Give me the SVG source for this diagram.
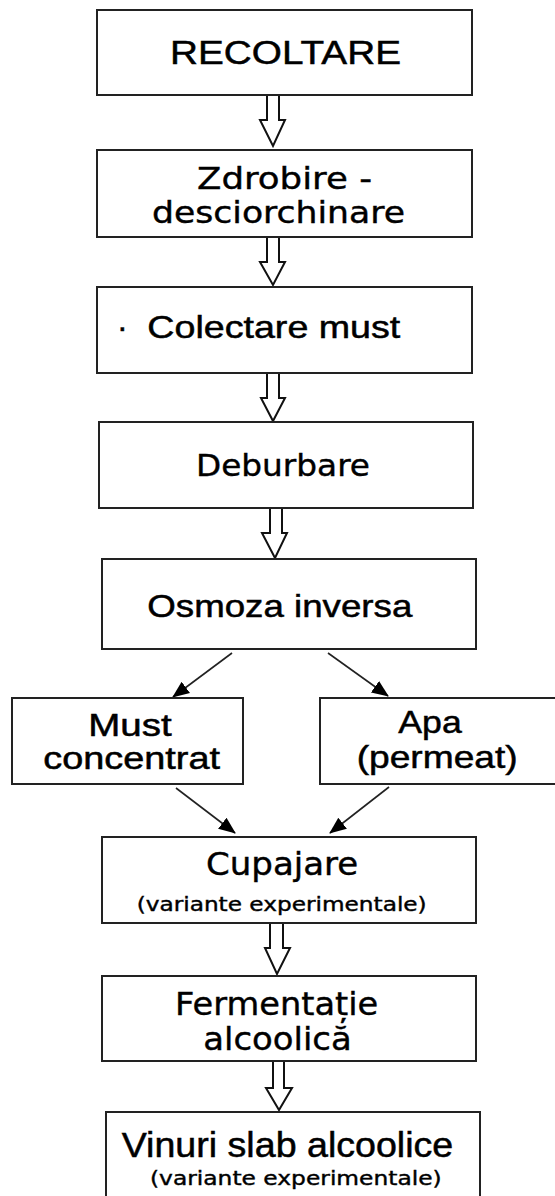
<svg xmlns="http://www.w3.org/2000/svg" width="555" height="1196" viewBox="0 0 555 1196">
<defs>
<style>
.box{fill:#fff;stroke:#222;stroke-width:2}
.a{font-family:"Liberation Sans",Arial,sans-serif;fill:#000;stroke:#000;stroke-width:0.5}
.t{font-family:"DejaVu Sans","Noto Sans",sans-serif;fill:#000;stroke:#000;stroke-width:0.4}
.big{fill:#fff;stroke:#111;stroke-width:2;stroke-linejoin:miter}
.thin{stroke:#222;stroke-width:1.6;fill:none;marker-end:url(#ah)}
</style>
<marker id="ah" markerUnits="userSpaceOnUse" markerWidth="18" markerHeight="16" refX="16" refY="7" orient="auto" viewBox="0 0 18 14">
<path d="M0,0 L17,7 L0,14 Z" fill="#000"/>
</marker>
</defs>
<rect width="555" height="1196" fill="#fff"/>
<g id="connectors">
<polygon class="big" points="267,95 279,95 279,120 285,120 273,146 260,120 267,120"/>
<polygon class="big" points="267,237 279,237 279,262 285,262 273,285 260,262 267,262"/>
<polygon class="big" points="267,373 279,373 279,398 285,398 273,421 261,398 267,398"/>
<polygon class="big" points="270,508 282,508 282,533 287,533 275,558 262,533 270,533"/>
<polygon class="big" points="270,923 283,923 283,948 290,948 277,974 265,948 270,948"/>
<polygon class="big" points="273,1061 284,1061 284,1088 292,1088 279,1110 266,1088 273,1088"/>
<line class="thin" x1="232" y1="653" x2="173" y2="697"/>
<line class="thin" x1="328" y1="653" x2="388" y2="696"/>
<line class="thin" x1="176" y1="788" x2="235" y2="833"/>
<line class="thin" x1="389" y1="787" x2="330" y2="833"/>
</g>
<g id="recoltare">
<rect class="box" x="97" y="10" width="375" height="85"/>
<text class="a" x="170" y="64" font-size="34" textLength="231" lengthAdjust="spacingAndGlyphs">RECOLTARE</text>
</g>
<g id="zdrobire">
<rect class="box" x="97" y="150" width="375" height="87"/>
<text class="t" x="197" y="188.5" font-size="30.5" textLength="175" lengthAdjust="spacingAndGlyphs">Zdrobire -</text>
<text class="t" x="152" y="222.5" font-size="30.5" textLength="253" lengthAdjust="spacingAndGlyphs">desciorchinare</text>
</g>
<g id="colectare">
<rect class="box" x="97" y="287" width="375" height="86"/>
<text class="a" x="122.3" y="338" font-size="32" text-anchor="middle">·</text>
<text class="a" x="147.3" y="338" font-size="32" textLength="253" lengthAdjust="spacingAndGlyphs">Colectare must</text>
</g>
<g id="deburbare">
<rect class="box" x="99" y="422" width="374" height="86"/>
<text class="t" x="196" y="476" font-size="31" textLength="174" lengthAdjust="spacingAndGlyphs">Deburbare</text>
</g>
<g id="osmoza">
<rect class="box" x="102" y="559" width="374" height="90"/>
<text class="a" x="147.3" y="616.7" font-size="32" textLength="265" lengthAdjust="spacingAndGlyphs">Osmoza inversa</text>
</g>
<g id="must">
<rect class="box" x="12" y="698" width="231" height="86"/>
<text class="a" x="88.3" y="735.5" font-size="31" textLength="83.4" lengthAdjust="spacingAndGlyphs">Must</text>
<text class="a" x="43.3" y="769" font-size="31" textLength="176.7" lengthAdjust="spacingAndGlyphs">concentrat</text>
</g>
<g id="apa">
<rect class="box" x="320" y="698" width="240" height="86"/>
<text class="a" x="398.3" y="733.3" font-size="32" textLength="63.4" lengthAdjust="spacingAndGlyphs">Apa</text>
<text class="a" x="356.7" y="767.7" font-size="32" textLength="161" lengthAdjust="spacingAndGlyphs">(permeat)</text>
</g>
<g id="cupajare">
<rect class="box" x="102" y="837" width="374" height="86"/>
<text class="t" x="206" y="875" font-size="32" textLength="152.3" lengthAdjust="spacingAndGlyphs">Cupajare</text>
<text class="t" x="136.7" y="911" font-size="19" textLength="290" lengthAdjust="spacingAndGlyphs" stroke-width="0.2">(variante experimentale)</text>
</g>
<g id="fermentatie">
<rect class="box" x="102" y="976" width="374" height="85"/>
<text class="t" x="175" y="1015" font-size="32" textLength="203.3" lengthAdjust="spacingAndGlyphs">Fermentație</text>
<text class="t" x="203.3" y="1050" font-size="32" textLength="148.4" lengthAdjust="spacingAndGlyphs">alcoolică</text>
</g>
<g id="vinuri">
<rect class="box" x="106" y="1112" width="374" height="100"/>
<text class="a" x="121.7" y="1156.7" font-size="35" textLength="331.6" lengthAdjust="spacingAndGlyphs">Vinuri slab alcoolice</text>
<text class="t" x="150" y="1185" font-size="19" textLength="291.7" lengthAdjust="spacingAndGlyphs" stroke-width="0.2">(variante experimentale)</text>
</g>
</svg>
